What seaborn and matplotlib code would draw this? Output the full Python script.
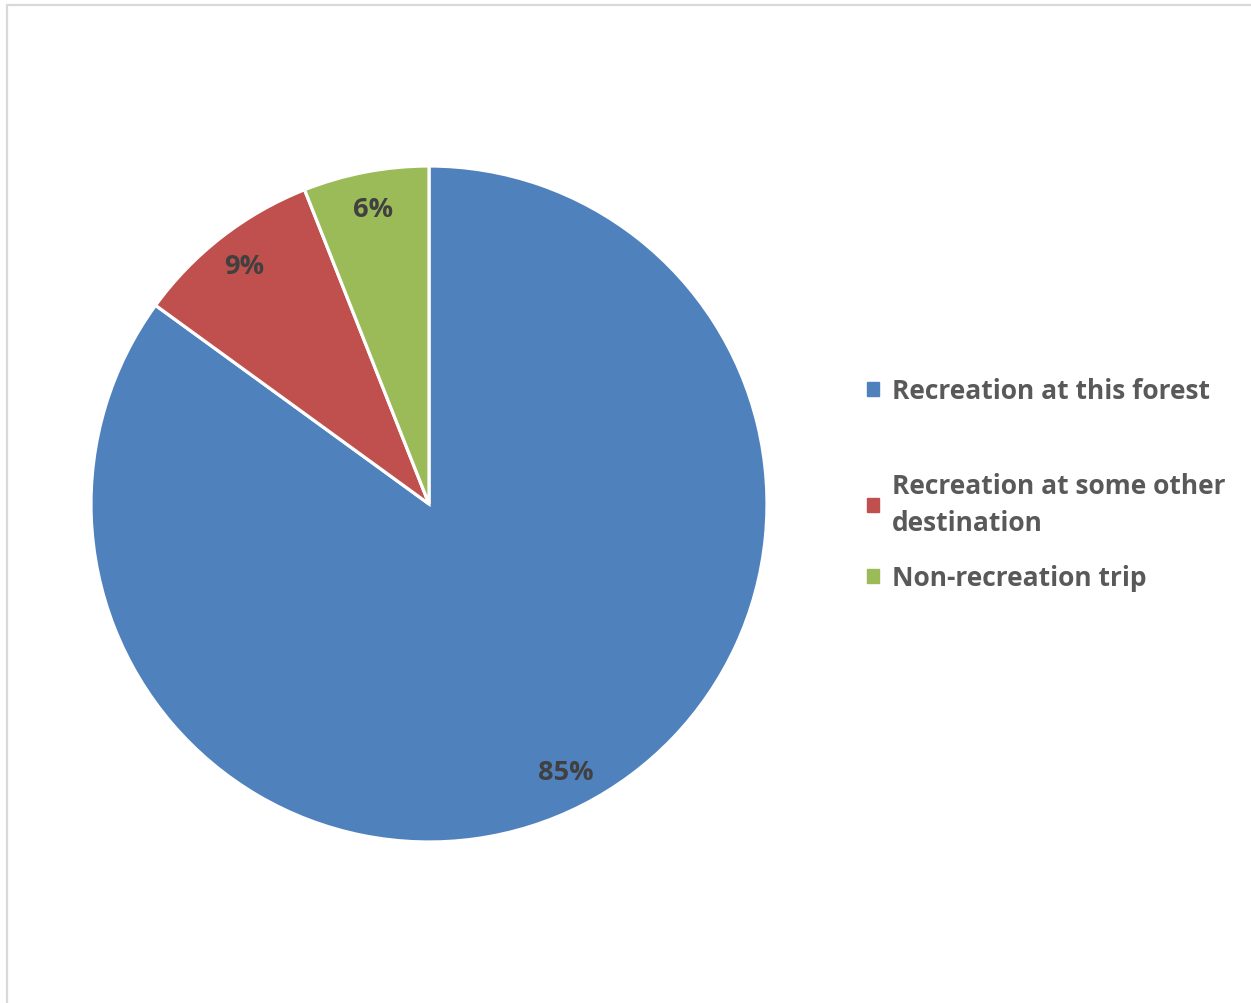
import matplotlib
matplotlib.use("Agg")
import matplotlib.pyplot as plt
import seaborn as sns
from matplotlib.patches import Rectangle, Patch

sns.set_theme(style="white")
plt.rcParams['font.family'] = ['Open Sans', 'DejaVu Sans']

categories = ["Recreation at this forest", "Recreation at some other\ndestination", "Non-recreation trip"]
values = [85, 9, 6]
colors = ["#4F81BD", "#C0504D", "#9BBB59"]

W, H = 1251, 1004
fig = plt.figure(figsize=(W / 100, H / 100), dpi=100)
fig.patch.set_facecolor("white")

# border (left/top visible)
fig.add_artist(Rectangle((7 / W, -0.1), 1.2, (H - 6) / H + 0.1, transform=fig.transFigure,
                         fill=False, edgecolor="#d9d9d9", linewidth=1.6))

cx, cy, r = 429, 505, 338
ax = fig.add_axes([(cx - r) / W, (H - cy - r) / H, 2 * r / W, 2 * r / H])
wedges, texts, autotexts = ax.pie(
    values, colors=colors, startangle=90, counterclock=False,
    autopct=lambda p: f"{p:.0f}%", pctdistance=0.89, radius=1,
    wedgeprops=dict(edgecolor="white", linewidth=2.3),
    textprops=dict(color="#404040", fontsize=19.5, fontweight="bold"))
ax.set_xlim(-1, 1)
ax.set_ylim(-1, 1)
ax.set_aspect("equal")
ax.axis("off")

# legend entries positioned as in reference
legend_y = [392, 505, 579]
for lab, col, y in zip(categories, colors, legend_y):
    leg = fig.legend(handles=[Patch(facecolor=col, edgecolor=col)], labels=[lab],
                     loc="center left", bbox_to_anchor=(843 / W, 1 - y / H),
                     frameon=False, handlelength=0.45, handleheight=0.45,
                     handletextpad=0.5,
                     prop=dict(weight="bold", size=19))
    for t in leg.get_texts():
        t.set_color("#595959")
        t.set_linespacing(1.5)

fig.savefig("out.png", dpi=100, facecolor="white")
